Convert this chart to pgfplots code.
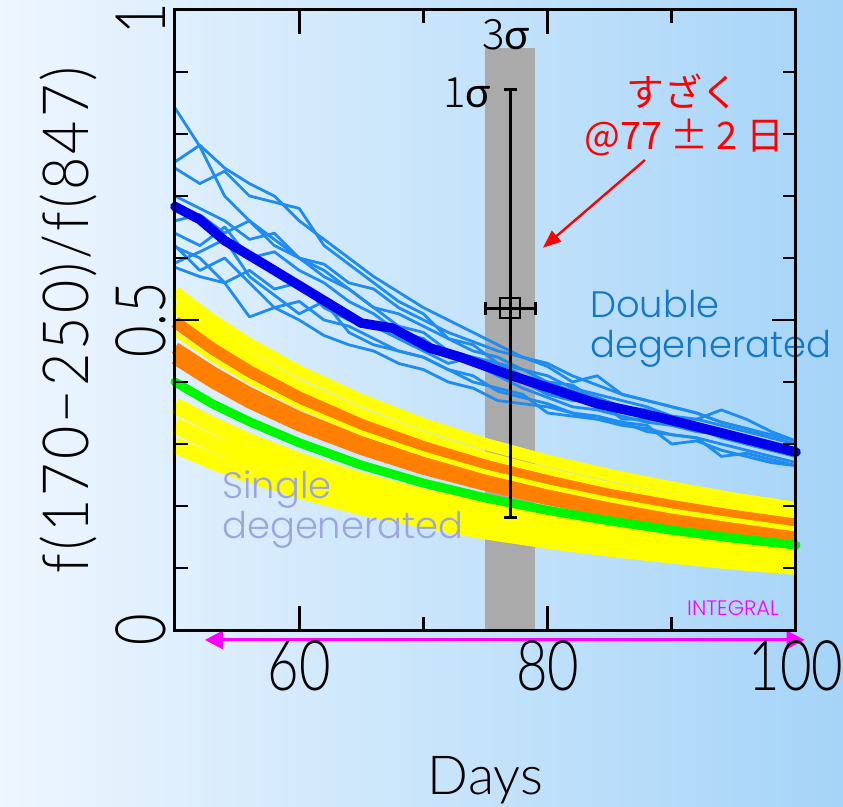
\documentclass[border=0pt]{standalone}
\usepackage{fontspec}
\usepackage{pgfplots}
\usepackage{pgfplotstable}
\pgfplotsset{compat=1.18}
\usetikzlibrary{arrows.meta}
\IfFontExistsTF{Noto Sans CJK JP Light}{\setmainfont{Noto Sans CJK JP Light}}{\setmainfont{Noto Sans CJK JP}}
\IfFontExistsTF{Lato Light}{\newfontfamily\thin{Lato Light}}{\newfontfamily\thin{Noto Sans CJK JP}}
\IfFontExistsTF{Poppins Light}{\newfontfamily\geo{Poppins Light}}{\newfontfamily\geo{Poppins}}
\newfontfamily\jp{Noto Sans CJK JP}
\newfontfamily\grk{Lato}
\definecolor{bgL}{RGB}{238,246,254}
\definecolor{bgR}{RGB}{165,212,248}
\definecolor{thinblue}{RGB}{30,140,240}
\definecolor{thickblue}{RGB}{0,0,235}
\definecolor{ylw}{RGB}{255,255,0}
\definecolor{org}{RGB}{255,128,0}
\definecolor{grn}{RGB}{0,245,0}
\definecolor{dbl}{RGB}{20,120,200}
\definecolor{sgl}{RGB}{155,165,225}
\definecolor{band}{RGB}{170,170,170}
\definecolor{mag}{RGB}{255,0,255}

\pgfplotstableread{
x b1 b2 b3 b4 b5 b6 b7 b8 b9 b10
50 0.842 0.755 0.745 0.66 0.64 0.618 0.592 0.585 0.70 0.62
52 0.78 0.782 0.72 0.67 0.62 0.60 0.61 0.57 0.68 0.58
54 0.70 0.745 0.74 0.64 0.65 0.56 0.63 0.56 0.66 0.60
56 0.66 0.72 0.70 0.66 0.60 0.58 0.57 0.505 0.63 0.56
58 0.62 0.70 0.69 0.63 0.61 0.55 0.54 0.52 0.64 0.52
60 0.60 0.66 0.68 0.60 0.58 0.56 0.51 0.50 0.60 0.53
62 0.58 0.63 0.62 0.57 0.56 0.52 0.53 0.475 0.59 0.50
64 0.55 0.60 0.59 0.55 0.53 0.50 0.48 0.46 0.56 0.49
66 0.52 0.57 0.56 0.52 0.51 0.49 0.46 0.45 0.55 0.47
68 0.51 0.545 0.53 0.49 0.48 0.47 0.45 0.43 0.52 0.45
70 0.49 0.52 0.51 0.48 0.47 0.45 0.44 0.42 0.50 0.44
72 0.47 0.50 0.47 0.45 0.44 0.43 0.42 0.40 0.48 0.42
74 0.45 0.48 0.46 0.44 0.43 0.44 0.41 0.39 0.465 0.40
76 0.44 0.46 0.43 0.43 0.41 0.41 0.385 0.37 0.45 0.39
78 0.42 0.44 0.42 0.41 0.40 0.39 0.375 0.365 0.44 0.38
80 0.41 0.43 0.40 0.40 0.38 0.375 0.365 0.36 0.425 0.35
82 0.39 0.41 0.395 0.385 0.37 0.36 0.35 0.35 0.40 0.345
84 0.38 0.395 0.37 0.375 0.37 0.355 0.34 0.345 0.41 0.34
86 0.37 0.38 0.36 0.36 0.34 0.345 0.335 0.335 0.38 0.33
88 0.36 0.37 0.355 0.35 0.34 0.335 0.33 0.32 0.37 0.325
90 0.345 0.36 0.34 0.345 0.335 0.33 0.30 0.315 0.36 0.315
92 0.34 0.35 0.34 0.33 0.325 0.32 0.305 0.31 0.35 0.31
94 0.33 0.335 0.355 0.32 0.31 0.315 0.29 0.28 0.335 0.30
96 0.32 0.325 0.34 0.31 0.30 0.30 0.28 0.285 0.325 0.29
98 0.31 0.315 0.32 0.30 0.29 0.29 0.27 0.275 0.31 0.28
100 0.30 0.305 0.305 0.29 0.28 0.28 0.265 0.265 0.30 0.27
}\thinblue

\pgfplotstableread{
x y
50 0.683
52 0.662
54 0.628
58 0.580
65 0.495
67.5 0.487
70.5 0.455
73 0.440
77 0.411
84 0.365
89 0.343
94 0.318
100 0.287
}\thickblue

\pgfplotstableread{
x U1 U2 O1 Y3 O2a O2b G L1 L2 L3
50 0.545 0.522 0.497 0.478 0.455 0.438 0.400 0.362 0.330 0.298
53 0.500 0.477 0.454 0.437 0.416 0.400 0.365 0.331 0.301 0.272
56 0.461 0.438 0.417 0.401 0.382 0.367 0.336 0.304 0.277 0.250
60 0.417 0.393 0.375 0.360 0.343 0.330 0.302 0.273 0.249 0.225
65 0.371 0.348 0.331 0.318 0.303 0.292 0.266 0.241 0.220 0.198
70 0.332 0.310 0.295 0.284 0.270 0.260 0.237 0.215 0.196 0.177
75 0.300 0.278 0.265 0.255 0.243 0.234 0.213 0.193 0.176 0.159
80 0.273 0.252 0.240 0.231 0.220 0.211 0.193 0.175 0.159 0.144
85 0.250 0.229 0.218 0.210 0.200 0.192 0.176 0.159 0.145 0.131
90 0.230 0.210 0.200 0.192 0.183 0.176 0.161 0.146 0.133 0.120
95 0.212 0.193 0.184 0.177 0.168 0.162 0.148 0.134 0.122 0.110
100 0.197 0.178 0.170 0.163 0.155 0.150 0.137 0.124 0.113 0.102
}\smooth

\begin{document}
\begin{tikzpicture}
\shade[left color=bgL, right color=bgR] (-87.5bp,-88.5bp) rectangle (334bp,315bp);
\begin{axis}[
  at={(0,0)}, anchor=south west,
  width=310.5bp, height=310bp, scale only axis,
  xmin=50, xmax=100, ymin=0, ymax=1,
  clip=false, axis on top,
  axis line style={line width=1.5bp, black},
  xtick={60,80,100}, minor xtick={50,70,90},
  ytick={0,0.5,1}, yticklabels={0,0.5,{1\hspace*{9bp}}},
  minor ytick={0.1,0.2,0.3,0.4,0.6,0.7,0.8,0.9},
  tick align=inside, major tick length=12bp, minor tick length=6.5bp,
  every tick/.style={line width=1.4bp, black},
  /pgf/number format/assume math mode=true,
  ticklabel style={font=\thin\fontsize{35}{35}\selectfont\addfontfeatures{FakeStretch=0.78}},
  xticklabel style={yshift=-2bp},
  yticklabel style={xshift=-1bp, rotate=90, anchor=south},
  xlabel={Days},
  xlabel style={at={(axis description cs:0.5,-0.242)}, anchor=center, font=\thin\fontsize{27}{27}\selectfont},
  ylabel={f(170−250)/f(847)},
  ylabel style={at={(axis description cs:-0.172,0.5)}, anchor=center, font=\thin\fontsize{32}{32}\selectfont\addfontfeatures{FakeStretch=0.9,LetterSpace=5}},
]
% 3 sigma band
\addplot[draw=none, fill=band] coordinates {(75,0) (79,0) (79,0.939) (75,0.939)} -- cycle;

% single degenerated family
\addplot[ylw, line width=8bp] table[x=x, y=L3] {\smooth};
\addplot[ylw, line width=8bp] table[x=x, y=L2] {\smooth};
\addplot[ylw, line width=8bp] table[x=x, y=L1] {\smooth};
\addplot[ylw, line width=6bp] table[x=x, y=U1] {\smooth};
\addplot[ylw, line width=6bp] table[x=x, y=U2] {\smooth};
\addplot[org, line width=6bp] table[x=x, y=O1] {\smooth};
\addplot[org, line width=6bp] table[x=x, y=O2a] {\smooth};
\addplot[org, line width=6bp] table[x=x, y=O2b] {\smooth};
\addplot[ylw, line width=2.5bp] table[x=x, y=Y3] {\smooth};
\addplot[grn, line width=4.5bp, line cap=round] table[x=x, y=G] {\smooth};

% double degenerated family
\foreach \c in {b1,b2,b3,b4,b5,b6,b7,b8,b9,b10}{
  \addplot[thinblue, line width=1.4bp, line join=round] table[x=x, y=\c] {\thinblue};
}
\addplot[thickblue, line width=4.8bp, line cap=round, line join=round] table {\thickblue};

% measurement
\addplot[black, only marks, mark=square, mark size=5bp, mark options={line width=1bp},
  error bars/.cd, x dir=both, x explicit, y dir=both, y explicit,
  error bar style={line width=1.5bp},
  error mark=-,
  error mark options={rotate=90, line width=1.5bp, mark size=3.3bp}]
  coordinates {(77,0.519) += (2,0.352) -= (2,0.338)};

% annotations
\node[font=\fontsize{21}{21}\selectfont, inner sep=0] at (axis cs:76.65,0.96) {3{\grk σ}};
\node[font=\fontsize{21}{21}\selectfont, inner sep=0] at (axis cs:73.5,0.866) {1{\grk σ}};
\node[red, font=\jp\fontsize{19}{19}\selectfont, inner sep=0] at (axis cs:90.9,0.869) {すざく};
\node[red, font=\jp\fontsize{19}{19}\selectfont, inner sep=0] at (axis cs:91.0,0.794) {@77 ± 2 日};
\draw[red, line width=1.2bp, -{Triangle[length=9bp,width=7bp]}] (axis cs:87.84,0.758) -- (axis cs:79.63,0.6165);
\node[dbl, font=\geo\fontsize{18.5}{20}\selectfont, align=left, anchor=north west, inner sep=0] at (axis cs:83.4,0.548) {Double\\degenerated};
\node[sgl, font=\geo\fontsize{18.5}{20}\selectfont, align=left, anchor=north west, inner sep=0] at (axis cs:53.78,0.258) {Single\\degenerated};
\node[mag, font=\geo\fontsize{10.5}{10.5}\selectfont, inner sep=0] at (axis cs:94.93,0.0355) {INTEGRAL};
\draw[mag, line width=1.5bp, {Triangle[length=9bp,width=9bp]}-{Triangle[length=9bp,width=9bp]}] (axis cs:52.4,-0.016) -- (axis cs:100.7,-0.016);
\end{axis}
\pgfresetboundingbox
\path[use as bounding box] (-87.5bp,-88.5bp) rectangle (334bp,315bp);
\end{tikzpicture}
\end{document}
